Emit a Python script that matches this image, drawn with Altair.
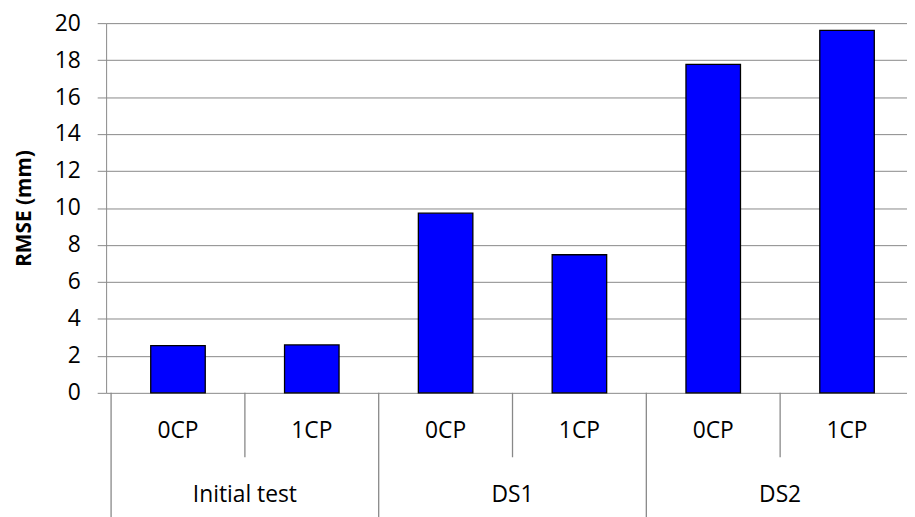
import altair as alt
import pandas as pd

groups = ["Initial test", "Initial test", "DS1", "DS1", "DS2", "DS2"]
subs = ["0CP", "1CP", "0CP", "1CP", "0CP", "1CP"]
values = [2.55, 2.59, 9.72, 7.47, 17.77, 19.61]
y_ticks = [0, 2, 4, 6, 8, 10, 12, 14, 16, 18, 20]

df = pd.DataFrame({"idx": list(range(len(values))), "group": groups, "sub": subs, "rmse": values})

grp = df.groupby("group", sort=False)["idx"].agg(["min", "max", "mean"]).reset_index()
long_div = pd.DataFrame({"pos": list(grp["min"] - 0.5)})
short_div = pd.DataFrame({"pos": list(grp["min"] + 0.5)})
grp_lab = pd.DataFrame({"group": grp["group"], "pos": grp["mean"]})

FONT = "Open Sans"
GRAY = "#888888"
xscale = alt.Scale(domain=[-0.5, 5.5], range=[0, 820], nice=False, zero=False)

bars = alt.Chart(df).mark_bar(size=55, color="#0000FF", stroke="black", strokeWidth=1.3).encode(
    x=alt.X("idx:Q", scale=xscale, axis=None),
    y=alt.Y("rmse:Q", scale=alt.Scale(domain=[0, 20], nice=False),
            axis=alt.Axis(values=y_ticks, title="RMSE (mm)", titleFont=FONT, titleFontSize=21,
                          titleFontWeight="bold", titleColor="black", titlePadding=20,
                          labelFont=FONT, labelFontSize=23, labelColor="black", labelPadding=17,
                          labelOverlap=False, domainColor=GRAY, tickColor=GRAY, tickSize=9,
                          gridColor=GRAY, gridWidth=1, grid=True)),
)

sub_text = alt.Chart(df).mark_text(font=FONT, fontSize=23, color="black", baseline="middle").encode(
    x=alt.X("idx:Q", scale=xscale, axis=None), y=alt.value(412), text="sub:N")

grp_text = alt.Chart(grp_lab).mark_text(font=FONT, fontSize=23, color="black", baseline="middle").encode(
    x=alt.X("pos:Q", scale=xscale, axis=None), y=alt.value(476), text="group:N")

short_rules = alt.Chart(short_div).mark_rule(color=GRAY, strokeWidth=1.3).encode(
    x=alt.X("pos:Q", scale=xscale, axis=None), y=alt.value(373), y2=alt.value(438))

long_rules = alt.Chart(long_div).mark_rule(color=GRAY, strokeWidth=1.3).encode(
    x=alt.X("pos:Q", scale=xscale, axis=None), y=alt.value(373), y2=alt.value(500))

chart = alt.layer(bars, short_rules, long_rules, sub_text, grp_text).properties(
    width=808, height=373,
    autosize=alt.AutoSizeParams(type="none"),
    padding={"left": 99, "top": 13, "right": 0, "bottom": 123},
).configure_view(stroke=None)

chart.save("out.html", embed_options={"renderer": "svg", "actions": False})
